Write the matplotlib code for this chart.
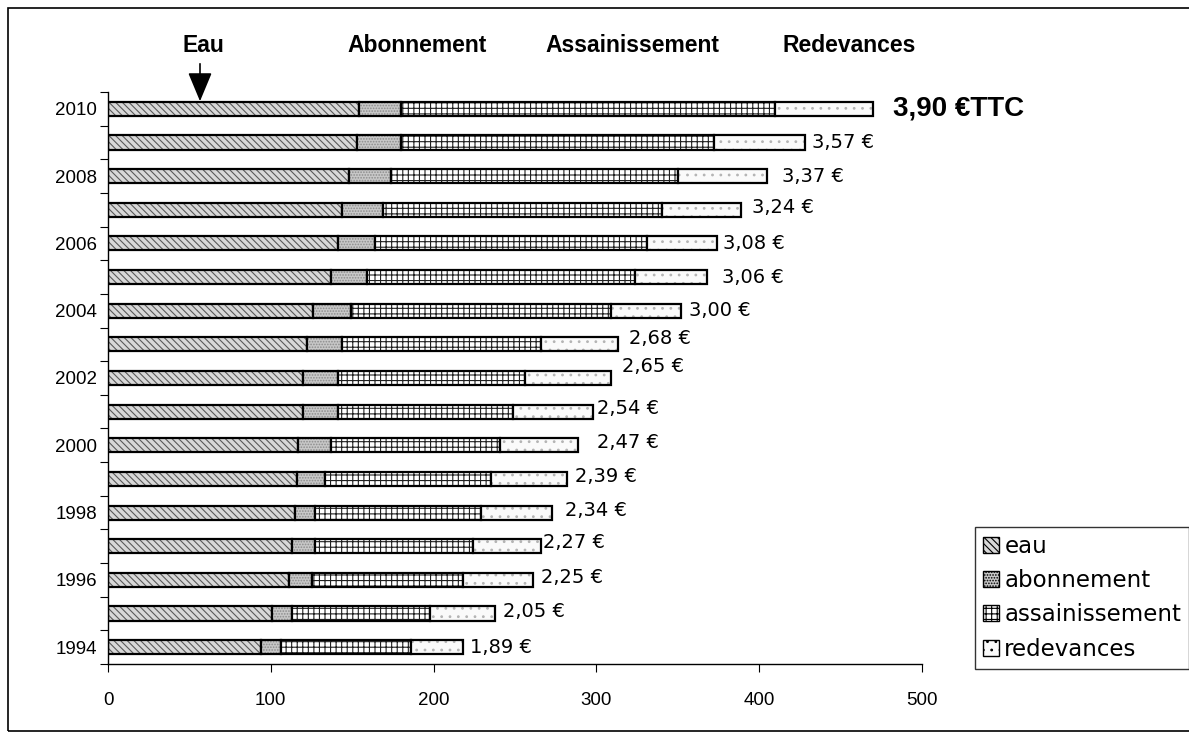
import matplotlib
matplotlib.use("Agg")
import matplotlib.pyplot as plt
from matplotlib.patches import Rectangle, FancyArrowPatch
from matplotlib import font_manager
import numpy as np

plt.rcParams['font.family'] = ['Liberation Sans', 'DejaVu Sans']
plt.rcParams['hatch.linewidth'] = 0.8

# Water bill composition per year (same units as the x axis)
years = [1994, 1995, 1996, 1997, 1998, 1999, 2000, 2001, 2002,
         2003, 2004, 2005, 2006, 2007, 2008, 2009, 2010]
eau = [94, 101, 111, 113, 115, 116, 117, 120, 120,
       122, 126, 137, 141, 144, 148, 153, 154]
abonnement = [12, 12, 14, 14, 12, 17, 20, 21, 21,
              22, 23, 22, 23, 25, 26, 27, 26]
assainissement = [80, 85, 93, 97, 102, 102, 104, 108, 115,
                  122, 160, 165, 167, 171, 176, 192, 230]
redevances = [32, 40, 43, 42, 44, 47, 48, 49, 53,
              47, 43, 44, 43, 49, 55, 56, 60]
# Price per m3 including tax
prix = ["1,89 €", "2,05 €", "2,25 €", "2,27 €", "2,34 €", "2,39 €", "2,47 €",
        "2,54 €", "2,65 €", "2,68 €", "3,00 €", "3,06 €", "3,08 €", "3,24 €",
        "3,37 €", "3,57 €", "3,90 €TTC"]

series = [
    ("eau", eau),
    ("abonnement", abonnement),
    ("assainissement", assainissement),
    ("redevances", redevances),
]
# fill, hatch pattern, hatch colour
styles = {
    "eau": ("#d8d8d8", "\\\\\\\\\\", "#5a5a5a"),
    "abonnement": ("#c8c8c8", "......", "#8c8c8c"),
    "assainissement": ("white", "+++", "#202020"),
    "redevances": ("#fafafa", "..", "#b4b4b4"),
}

# label nudges in pixels (dx after bar end, dy upward)
nudges = [(7, 0), (8, 2), (8, 2), (2, 4), (13, 2), (8, 2), (19, 3), (4, 3),
          (11, 11), (11, 6), (8, 0), (15, 0), (6, 0), (11, 2), (15, 0), (7, 0),
          (20, 0)]

W, H = 1189, 740
fig = plt.figure(figsize=(W / 100, H / 100), dpi=100)
ax = fig.add_axes([108 / W, 1 - 664 / H, (922 - 108) / W, (664 - 92) / H])

y = np.arange(len(years))
bar_h = 0.42
left = np.zeros(len(years))
for name, vals in series:
    fc, hatch, hc = styles[name]
    ax.barh(y, vals, left=left, height=bar_h, color=fc, hatch=hatch,
            edgecolor=hc, linewidth=0)
    ax.barh(y, vals, left=left, height=bar_h, fill=False,
            edgecolor="black", linewidth=1.6)
    left = left + np.array(vals)

totals = left
for i, (tot, lab) in enumerate(zip(totals, prix)):
    dx, dy = nudges[i]
    if i == len(years) - 1:
        ax.annotate(lab, xy=(tot, y[i]), xytext=(dx * 0.72, dy * 0.72),
                    textcoords="offset points", va="center", ha="left",
                    fontsize=20, fontweight="bold", annotation_clip=False)
    else:
        ax.annotate(lab, xy=(tot, y[i]), xytext=(dx * 0.72, dy * 0.72),
                    textcoords="offset points", va="center", ha="left",
                    fontsize=14, family=['DejaVu Sans'],
                    annotation_clip=False)

ax.set_xlim(0, 500)
ax.set_ylim(-0.5, len(years) - 0.5)
ax.set_xticks([0, 100, 200, 300, 400, 500])
ax.tick_params(axis="x", labelsize=13.5, length=6, direction="out", pad=14)

# boundary ticks between categories, year labels on every other bar
ax.set_yticks(np.arange(-0.5, len(years), 1.0))
ax.set_yticklabels([])
ax.set_yticks(y[::2], minor=True)
ax.set_yticklabels([str(v) for v in years[::2]], minor=True)
ax.tick_params(axis="y", which="major", length=6, direction="out")
ax.tick_params(axis="y", which="minor", length=0, labelsize=13.5, pad=8)

for s in ("top", "right"):
    ax.spines[s].set_visible(False)
for s in ("left", "bottom"):
    ax.spines[s].set_linewidth(1.0)

# column headings above the bars
try:
    font_manager.findfont(font_manager.FontProperties(
        family='Liberation Sans Narrow', weight='bold'),
        fallback_to_default=False)
    head_font, head_size = ['Liberation Sans Narrow', 'DejaVu Sans'], 20
except ValueError:
    head_font, head_size = ['Liberation Sans', 'DejaVu Sans'], 16.5
for txt, xp in [("Eau", 183), ("Abonnement", 347), ("Assainissement", 545),
                ("Redevances", 783)]:
    fig.text(xp / W, 1 - 46 / H, txt, family=head_font, fontweight="bold",
             fontsize=head_size, va="center", ha="left")

fig.add_artist(FancyArrowPatch(
    (200 / W, 1 - 61 / H), (200 / W, 1 - 104 / H), transform=fig.transFigure,
    arrowstyle="-|>,head_length=12,head_width=5", mutation_scale=1.5,
    color="black", linewidth=1.2))

# legend
handles = []
for name, _ in series:
    fc, hatch, hc = styles[name]
    handles.append(Rectangle((0, 0), 1, 1, facecolor=fc, hatch=hatch,
                             edgecolor="black", linewidth=1.0))
leg = fig.legend(handles, [n for n, _ in series], loc="upper left",
                 bbox_to_anchor=(975 / W, 1 - 527 / H),
                 prop={'family': ['DejaVu Sans'], 'size': 16.5},
                 frameon=True, fancybox=False, edgecolor="black",
                 handlelength=0.7, handleheight=0.7, handletextpad=0.25,
                 labelspacing=0.5, borderpad=0.33, borderaxespad=0)
leg.get_frame().set_linewidth(1.0)

# outer frame
fig.add_artist(Rectangle((8 / W, 1 - 731 / H), (W + 10) / W, (731 - 8) / H,
                         transform=fig.transFigure, fill=False,
                         edgecolor="black", linewidth=1.2))

fig.savefig("out.png", dpi=100, facecolor="white")
